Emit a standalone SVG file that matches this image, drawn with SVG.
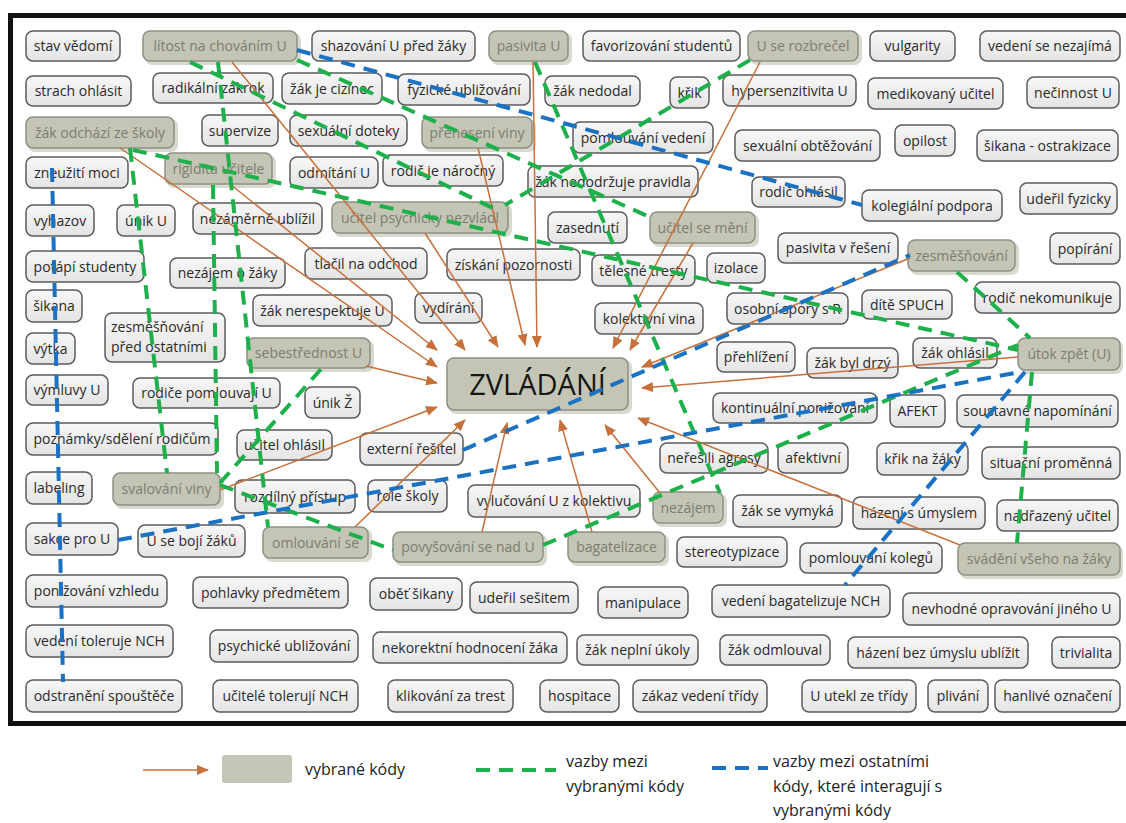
<svg xmlns="http://www.w3.org/2000/svg" width="1126" height="823" viewBox="0 0 1126 823">
<defs>
<linearGradient id="gN" x1="0" y1="0" x2="0" y2="1"><stop offset="0" stop-color="#f7f7f7"/><stop offset="1" stop-color="#e4e4e4"/></linearGradient>
<marker id="ah" viewBox="0 0 12 10" refX="11" refY="5" markerWidth="12" markerHeight="10" markerUnits="userSpaceOnUse" orient="auto"><path d="M0,0 L12,5 L0,10 Z" fill="#c8703a"/></marker>
</defs>
<style>
rect{rx:7px}
.n rect{fill:url(#gN);stroke:#5b5b5b;stroke-width:1.5}
.s rect{fill:#c4c5b4;stroke:#8e8f84;stroke-width:1.5}
.s rect.sh{fill:#d9dacf;stroke:none}
text{font-family:"Open Sans","Liberation Sans",sans-serif;font-size:14px;fill:#2a2a2a;text-anchor:middle}
.s text{fill:#7c7d72}
#zvladani text{font-size:29px;fill:#151515}
.o{stroke:#c8703a;stroke-width:1.5;fill:none;marker-end:url(#ah)}
.g{stroke:#1db04b;stroke-width:4;stroke-dasharray:14 9;fill:none}
.b{stroke:#1c72c2;stroke-width:4;stroke-dasharray:14 9;fill:none}
.lg{font-size:16px;text-anchor:start;fill:#222}
</style>
<rect x="0" y="0" width="1126" height="823" fill="#fff" style="rx:0"/>
<rect x="10.5" y="15.5" width="1125" height="708" fill="#fff" stroke="#111" stroke-width="5" style="rx:0"/>
<g id="nodes">
<g id="n1" class="n"><rect x="26" y="31" width="94" height="30"/><text x="73" y="51">stav vědomí</text></g>
<g id="n2" class="s"><rect class="sh" x="145" y="33" width="156" height="32"/><rect x="143" y="31" width="154" height="30"/><text x="220" y="51">lítost na chováním U</text></g>
<g id="n3" class="n"><rect x="312" y="31" width="163" height="30"/><text x="393.5" y="51">shazování U před žáky</text></g>
<g id="n4" class="s"><rect class="sh" x="491" y="33" width="81" height="32"/><rect x="489" y="31" width="79" height="30"/><text x="528.5" y="51">pasivita U</text></g>
<g id="n5" class="n"><rect x="583" y="31" width="157" height="30"/><text x="661.5" y="51">favorizování studentů</text></g>
<g id="n6" class="s"><rect class="sh" x="750" y="33" width="112" height="32"/><rect x="748" y="31" width="110" height="30"/><text x="803" y="51">U se rozbrečel</text></g>
<g id="n7" class="n"><rect x="870" y="31" width="85" height="30"/><text x="912.5" y="51">vulgarity</text></g>
<g id="n8" class="n"><rect x="980" y="31" width="140" height="30"/><text x="1050" y="51">vedení se nezajímá</text></g>
<g id="n9" class="n"><rect x="26" y="76" width="105" height="30"/><text x="78.5" y="96">strach ohlásit</text></g>
<g id="n10" class="n"><rect x="153" y="73" width="120" height="30"/><text x="213" y="93">radikální zákrok</text></g>
<g id="n11" class="n"><rect x="282" y="73" width="100" height="31"/><text x="332" y="93.5">žák je cizinec</text></g>
<g id="n12" class="n"><rect x="398" y="74" width="132" height="31"/><text x="464" y="94.5">fyzické ubližování</text></g>
<g id="n13" class="n"><rect x="545" y="76" width="95" height="30"/><text x="592.5" y="96">žák nedodal</text></g>
<g id="n14" class="n"><rect x="670" y="77" width="39" height="31"/><text x="689.5" y="97.5">křik</text></g>
<g id="n15" class="n"><rect x="723" y="75" width="133" height="31"/><text x="789.5" y="95.5">hypersenzitivita U</text></g>
<g id="n16" class="n"><rect x="868" y="78" width="135" height="31"/><text x="935.5" y="98.5">medikovaný učitel</text></g>
<g id="n17" class="n"><rect x="1027" y="77" width="92" height="31"/><text x="1073" y="97.5">nečinnost U</text></g>
<g id="n18" class="s"><rect class="sh" x="28" y="119" width="150" height="33"/><rect x="26" y="117" width="148" height="31"/><text x="100" y="137.5">žák odchází ze školy</text></g>
<g id="n19" class="n"><rect x="202" y="115" width="76" height="31"/><text x="240" y="135.5">supervize</text></g>
<g id="n20" class="n"><rect x="290" y="115" width="117" height="31"/><text x="348.5" y="135.5">sexuální doteky</text></g>
<g id="n21" class="s"><rect class="sh" x="424" y="119" width="112" height="33"/><rect x="422" y="117" width="110" height="31"/><text x="477" y="137.5">přenesení viny</text></g>
<g id="n22" class="n"><rect x="573" y="122" width="140" height="31"/><text x="643" y="142.5">pomlouvání vedení</text></g>
<g id="n23" class="n"><rect x="735" y="130" width="145" height="31"/><text x="807.5" y="150.5">sexuální obtěžování</text></g>
<g id="n24" class="n"><rect x="895" y="125" width="60" height="31"/><text x="925" y="145.5">opilost</text></g>
<g id="n25" class="n"><rect x="977" y="130" width="141" height="31"/><text x="1047.5" y="150.5">šikana - ostrakizace</text></g>
<g id="n26" class="n"><rect x="26" y="157" width="102" height="31"/><text x="77" y="177.5">zneužití moci</text></g>
<g id="n27" class="s"><rect class="sh" x="167" y="155" width="109" height="33"/><rect x="165" y="153" width="107" height="31"/><text x="218.5" y="173.5">rigidita učitele</text></g>
<g id="n28" class="n"><rect x="290" y="157" width="88" height="31"/><text x="334" y="177.5">odmítání U</text></g>
<g id="n29" class="n"><rect x="383" y="155" width="120" height="31"/><text x="443" y="175.5">rodič je náročný</text></g>
<g id="n30" class="n"><rect x="528" y="166" width="170" height="31"/><text x="613" y="186.5">žák nedodržuje pravidla</text></g>
<g id="n31" class="n"><rect x="752" y="177" width="93" height="30"/><text x="798.5" y="197">rodič ohlásil</text></g>
<g id="n32" class="n"><rect x="862" y="190" width="140" height="31"/><text x="932" y="210.5">kolegiální podpora</text></g>
<g id="n33" class="n"><rect x="1020" y="183" width="97" height="31"/><text x="1068.5" y="203.5">udeřil fyzicky</text></g>
<g id="n34" class="n"><rect x="26" y="205" width="68" height="31"/><text x="60" y="225.5">vyhazov</text></g>
<g id="n35" class="n"><rect x="117" y="205" width="58" height="31"/><text x="146" y="225.5">únik U</text></g>
<g id="n36" class="n"><rect x="193" y="203" width="129" height="31"/><text x="257.5" y="223.5">nezáměrně ublížil</text></g>
<g id="n37" class="s"><rect class="sh" x="334" y="204" width="178" height="33"/><rect x="332" y="202" width="176" height="31"/><text x="420" y="222.5">učitel psychicky nezvládl</text></g>
<g id="n38" class="n"><rect x="548" y="212" width="79" height="31"/><text x="587.5" y="232.5">zasednutí</text></g>
<g id="n39" class="s"><rect class="sh" x="652" y="214" width="107" height="33"/><rect x="650" y="212" width="105" height="31"/><text x="702.5" y="232.5">učitel se mění</text></g>
<g id="n40" class="n"><rect x="778" y="233" width="120" height="30"/><text x="838" y="253">pasivita v řešení</text></g>
<g id="n41" class="s"><rect class="sh" x="910" y="242" width="109" height="33"/><rect x="908" y="240" width="107" height="31"/><text x="961.5" y="260.5">zesměšňování</text></g>
<g id="n42" class="n"><rect x="1050" y="233" width="70" height="31"/><text x="1085" y="253.5">popírání</text></g>
<g id="n43" class="n"><rect x="26" y="251" width="118" height="31"/><text x="85" y="271.5">potápí studenty</text></g>
<g id="n44" class="n"><rect x="170" y="258" width="115" height="30"/><text x="227.5" y="278">nezájem o žáky</text></g>
<g id="n45" class="n"><rect x="305" y="248" width="122" height="31"/><text x="366" y="268.5">tlačil na odchod</text></g>
<g id="n46" class="n"><rect x="447" y="249" width="133" height="31"/><text x="513.5" y="269.5">získání pozornosti</text></g>
<g id="n47" class="n"><rect x="592" y="255" width="103" height="31"/><text x="643.5" y="275.5">tělesné tresty</text></g>
<g id="n48" class="n"><rect x="707" y="253" width="58" height="30"/><text x="736" y="273">izolace</text></g>
<g id="n49" class="n"><rect x="26" y="290" width="56" height="32"/><text x="54" y="311">šikana</text></g>
<g id="n50" class="n"><rect x="253" y="295" width="139" height="31"/><text x="322.5" y="315.5">žák nerespektuje U</text></g>
<g id="n51" class="n"><rect x="415" y="293" width="67" height="30"/><text x="448.5" y="313">vydírání</text></g>
<g id="n52" class="n"><rect x="595" y="303" width="108" height="31"/><text x="649" y="323.5">kolektivní vina</text></g>
<g id="n53" class="n"><rect x="727" y="293" width="121" height="31"/><text x="787.5" y="313.5">osobní spory s R</text></g>
<g id="n54" class="n"><rect x="862" y="290" width="90" height="29"/><text x="907" y="309.5">dítě SPUCH</text></g>
<g id="n55" class="n"><rect x="975" y="282" width="145" height="31"/><text x="1047.5" y="302.5">rodič nekomunikuje</text></g>
<g id="n56" class="n"><rect x="105" y="313" width="120" height="49"/><text x="111" y="332" style="text-anchor:start">zesměšňování</text><text x="111" y="352" style="text-anchor:start">před ostatními</text></g>
<g id="n57" class="n"><rect x="26" y="333" width="49" height="31"/><text x="50.5" y="353.5">výtka</text></g>
<g id="n58" class="s"><rect class="sh" x="249" y="340" width="125" height="32"/><rect x="247" y="338" width="123" height="30"/><text x="308.5" y="358">sebestřednost U</text></g>
<g id="zvladani" class="s"><rect class="sh" x="449" y="360" width="183" height="54"/><rect x="447" y="358" width="181" height="52"/><text x="537.5" y="395">ZVLÁDÁNÍ</text></g>
<g id="n60" class="n"><rect x="717" y="342" width="78" height="30"/><text x="756" y="362">přehlížení</text></g>
<g id="n61" class="n"><rect x="807" y="348" width="91" height="30"/><text x="852.5" y="368">žák byl drzý</text></g>
<g id="n62" class="n"><rect x="913" y="338" width="84" height="30"/><text x="955" y="358">žák ohlásil</text></g>
<g id="n63" class="s"><rect class="sh" x="1020" y="340" width="103" height="34"/><rect x="1018" y="338" width="102" height="32"/><text x="1069" y="359">útok zpět (U)</text></g>
<g id="n64" class="n"><rect x="26" y="375" width="82" height="30"/><text x="67" y="395">výmluvy U</text></g>
<g id="n65" class="n"><rect x="133" y="378" width="147" height="30"/><text x="206.5" y="398">rodiče pomlouvají U</text></g>
<g id="n66" class="n"><rect x="305" y="387" width="55" height="31"/><text x="332.5" y="407.5">únik Ž</text></g>
<g id="n67" class="n"><rect x="713" y="393" width="164" height="30"/><text x="795" y="413">kontinuální ponižování</text></g>
<g id="n68" class="n"><rect x="890" y="395" width="55" height="32"/><text x="917.5" y="416">AFEKT</text></g>
<g id="n69" class="n"><rect x="957" y="395" width="161" height="32"/><text x="1037.5" y="416">soustavné napomínání</text></g>
<g id="n70" class="n"><rect x="26" y="423" width="192" height="32"/><text x="122" y="444">poznámky/sdělení rodičům</text></g>
<g id="n71" class="n"><rect x="237" y="430" width="95" height="30"/><text x="284.5" y="450">učitel ohlásil</text></g>
<g id="n72" class="n"><rect x="360" y="433" width="103" height="32"/><text x="411.5" y="454">externí řešitel</text></g>
<g id="n73" class="n"><rect x="660" y="443" width="108" height="30"/><text x="714" y="463">neřešili agresy</text></g>
<g id="n74" class="n"><rect x="778" y="443" width="70" height="30"/><text x="813" y="463">afektivní</text></g>
<g id="n75" class="n"><rect x="877" y="443" width="91" height="32"/><text x="922.5" y="464">křik na žáky</text></g>
<g id="n76" class="n"><rect x="982" y="447" width="138" height="32"/><text x="1051" y="468">situační proměnná</text></g>
<g id="n77" class="n"><rect x="26" y="472" width="66" height="32"/><text x="59" y="493">labeling</text></g>
<g id="n78" class="s"><rect class="sh" x="115" y="475" width="109" height="34"/><rect x="113" y="473" width="107" height="32"/><text x="166.5" y="494">svalování viny</text></g>
<g id="n79" class="n"><rect x="235" y="480" width="120" height="33"/><text x="295" y="501.5">rozdílný přístup</text></g>
<g id="n80" class="n"><rect x="368" y="480" width="79" height="32"/><text x="407.5" y="501">role školy</text></g>
<g id="n81" class="n"><rect x="468" y="485" width="172" height="32"/><text x="554" y="506">vylučování U z kolektivu</text></g>
<g id="n82" class="s"><rect class="sh" x="655" y="494" width="72" height="33"/><rect x="653" y="492" width="70" height="31"/><text x="688" y="512.5">nezájem</text></g>
<g id="n83" class="n"><rect x="733" y="495" width="109" height="32"/><text x="787.5" y="516">žák se vymyká</text></g>
<g id="n84" class="n"><rect x="853" y="497" width="132" height="32"/><text x="919" y="518">házení s úmyslem</text></g>
<g id="n85" class="n"><rect x="997" y="500" width="121" height="31"/><text x="1057.5" y="520.5">nadřazený učitel</text></g>
<g id="n86" class="n"><rect x="26" y="523" width="92" height="32"/><text x="72" y="544">sakce pro U</text></g>
<g id="n87" class="n"><rect x="138" y="525" width="107" height="32"/><text x="191.5" y="546">U se bojí žáků</text></g>
<g id="n88" class="s"><rect class="sh" x="265" y="529" width="107" height="33"/><rect x="263" y="527" width="105" height="31"/><text x="315.5" y="547.5">omlouvání se</text></g>
<g id="n89" class="s"><rect class="sh" x="395" y="534" width="152" height="32"/><rect x="393" y="532" width="150" height="30"/><text x="468" y="552">povyšování se nad U</text></g>
<g id="n90" class="s"><rect class="sh" x="570" y="534" width="99" height="32"/><rect x="568" y="532" width="97" height="30"/><text x="616.5" y="552">bagatelizace</text></g>
<g id="n91" class="n"><rect x="677" y="537" width="110" height="30"/><text x="732" y="557">stereotypizace</text></g>
<g id="n92" class="n"><rect x="800" y="543" width="142" height="30"/><text x="871" y="563">pomlouvání kolegů</text></g>
<g id="n93" class="s"><rect class="sh" x="960" y="545" width="163" height="34"/><rect x="958" y="543" width="162" height="32"/><text x="1039" y="564">svádění všeho na žáky</text></g>
<g id="n94" class="n"><rect x="26" y="575" width="141" height="32"/><text x="96.5" y="596">ponižování vzhledu</text></g>
<g id="n95" class="n"><rect x="193" y="577" width="155" height="31"/><text x="270.5" y="597.5">pohlavky předmětem</text></g>
<g id="n96" class="n"><rect x="370" y="578" width="92" height="32"/><text x="416" y="599">oběť šikany</text></g>
<g id="n97" class="n"><rect x="470" y="582" width="108" height="31"/><text x="524" y="602.5">udeřil sešitem</text></g>
<g id="n98" class="n"><rect x="598" y="587" width="90" height="31"/><text x="643" y="607.5">manipulace</text></g>
<g id="n99" class="n"><rect x="712" y="585" width="178" height="32"/><text x="801" y="606">vedení bagatelizuje NCH</text></g>
<g id="n100" class="n"><rect x="903" y="593" width="217" height="32"/><text x="1011.5" y="614">nevhodné opravování jiného U</text></g>
<g id="n101" class="n"><rect x="26" y="625" width="147" height="32"/><text x="99.5" y="646">vedení toleruje NCH</text></g>
<g id="n102" class="n"><rect x="210" y="630" width="148" height="32"/><text x="284" y="651">psychické ubližování</text></g>
<g id="n103" class="n"><rect x="373" y="632" width="194" height="31"/><text x="470" y="652.5">nekorektní hodnocení žáka</text></g>
<g id="n104" class="n"><rect x="577" y="635" width="121" height="30"/><text x="637.5" y="655">žák neplní úkoly</text></g>
<g id="n105" class="n"><rect x="720" y="635" width="110" height="30"/><text x="775" y="655">žák odmlouval</text></g>
<g id="n106" class="n"><rect x="848" y="637" width="180" height="31"/><text x="938" y="657.5">házení bez úmyslu ublížit</text></g>
<g id="n107" class="n"><rect x="1052" y="637" width="68" height="31"/><text x="1086" y="657.5">trivialita</text></g>
<g id="n108" class="n"><rect x="26" y="680" width="156" height="32"/><text x="104" y="701">odstranění spouštěče</text></g>
<g id="n109" class="n"><rect x="213" y="680" width="145" height="32"/><text x="285.5" y="701">učitelé tolerují NCH</text></g>
<g id="n110" class="n"><rect x="388" y="680" width="125" height="32"/><text x="450.5" y="701">klikování za trest</text></g>
<g id="n111" class="n"><rect x="540" y="680" width="79" height="32"/><text x="579.5" y="701">hospitace</text></g>
<g id="n112" class="n"><rect x="633" y="680" width="134" height="32"/><text x="700" y="701">zákaz vedení třídy</text></g>
<g id="n113" class="n"><rect x="802" y="680" width="114" height="32"/><text x="859" y="701">U utekl ze třídy</text></g>
<g id="n114" class="n"><rect x="928" y="680" width="60" height="32"/><text x="958" y="701">plivání</text></g>
<g id="n115" class="n"><rect x="995" y="680" width="125" height="32"/><text x="1057.5" y="701">hanlivé označení</text></g>
</g>
<g id="connectors">
<path class="o" d="M232,62 L465,350"/>
<path class="o" d="M120,148 L437,367"/>
<path class="o" d="M230,184 L437,350"/>
<path class="o" d="M425,233 L498,347"/>
<path class="o" d="M478,148 L525,345"/>
<path class="o" d="M533,62 L537,347"/>
<path class="o" d="M760,62 L613,348"/>
<path class="o" d="M693,243 L630,350"/>
<path class="o" d="M910,258 L642,367"/>
<path class="o" d="M1018,357 L642,388"/>
<path class="o" d="M960,545 L638,418"/>
<path class="o" d="M660,493 L605,425"/>
<path class="o" d="M592,532 L560,420"/>
<path class="o" d="M482,532 L507,423"/>
<path class="o" d="M355,527 L465,420"/>
<path class="o" d="M220,490 L437,407"/>
<path class="o" d="M366,366 L437,383"/>
<path class="g" d="M218,62 L268,527"/>
<path class="g" d="M130,148 L167,473"/>
<path class="g" d="M213,185 L217,473"/>
<path class="g" d="M133,150 L1018,350"/>
<path class="g" d="M297,60 L652,218"/>
<path class="g" d="M190,62 L497,210"/>
<path class="g" d="M535,62 L720,493"/>
<path class="g" d="M750,60 L505,205"/>
<path class="g" d="M957,272 L1030,338"/>
<path class="g" d="M1032,372 L1017,543"/>
<path class="g" d="M220,485 L393,550"/>
<path class="g" d="M220,483 L322,368"/>
<path class="g" d="M543,545 L1018,345"/>
<path class="b" d="M52,168 L63,682"/>
<path class="b" d="M118,540 L1020,372"/>
<path class="b" d="M463,450 L910,255"/>
<path class="b" d="M1025,372 L845,585"/>
<path class="b" d="M297,50 L862,205"/>
</g>
<g id="legend">
<path class="o" d="M143,770 L208,770"/>
<rect x="222" y="755" width="70" height="28" fill="#c4c5b4" style="rx:3px"/>
<text class="lg" x="305" y="775">vybrané kódy</text>
<path class="g" d="M476,770 L556,770"/>
<text class="lg" x="566" y="767">vazby mezi</text>
<text class="lg" x="566" y="792">vybranými kódy</text>
<path class="b" d="M712,768 L768,768"/>
<text class="lg" x="773" y="767">vazby mezi ostatními</text>
<text class="lg" x="773" y="792">kódy, které interagují s</text>
<text class="lg" x="773" y="816">vybranými kódy</text>
</g>
</svg>
